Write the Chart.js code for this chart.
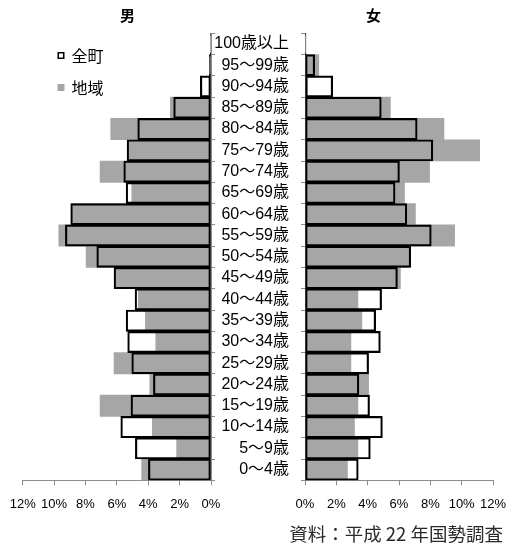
<!DOCTYPE html>
<html>
<head>
<meta charset="utf-8">
<script src="https://cdn.jsdelivr.net/npm/chart.js@4/dist/chart.umd.min.js"></script>
<style>
  html, body { margin: 0; padding: 0; background: #fff; }
  #wrap { position: relative; width: 508px; height: 547px; overflow: hidden; }
  #wrap canvas { position: absolute; left: 0; top: 0; }
  #note {
    position: absolute; right: 5px; top: 522px;
    font: 18.5px/22px "Noto Sans CJK JP", sans-serif; color: #2a2a2a; white-space: pre;
  }
</style>
</head>
<body>
<div id="wrap">
  <canvas id="male" width="508" height="547"></canvas>
  <canvas id="female" width="508" height="547"></canvas>
  <div id="note">資料：平成 22 年国勢調査</div>
</div>
<script>
// Age groups, oldest at the top of the pyramid
const ageGroups = [
  '100歳以上', '95～99歳', '90～94歳', '85～89歳', '80～84歳', '75～79歳',
  '70～74歳', '65～69歳', '60～64歳', '55～59歳', '50～54歳', '45～49歳',
  '40～44歳', '35～39歳', '30～34歳', '25～29歳', '20～24歳', '15～19歳',
  '10～14歳', '5～9歳', '0～4歳'
];

// Share of population (%) per age group
const maleTown     = [0.05, 0.1, 0.68, 2.38, 4.67, 5.35, 5.56, 5.41, 8.94, 9.28, 7.28, 6.18, 4.84, 5.41, 5.31, 5.05, 3.67, 5.1, 5.75, 4.82, 3.99];
const maleRegion   = [0.03, 0.1, 0.1, 2.59, 6.39, 5.3, 7.07, 5.05, 8.9, 9.7, 7.96, 6.15, 4.63, 4.18, 3.52, 6.18, 3.9, 7.07, 3.74, 2.19, 4.42];
const femaleTown   = [0.06, 0.62, 1.77, 4.87, 7.16, 8.16, 6.03, 5.75, 6.5, 8.06, 6.75, 5.9, 4.89, 4.51, 4.81, 4.06, 3.44, 4.12, 4.94, 4.17, 3.4];
const femaleRegion = [0.05, 0.88, 0.17, 5.45, 8.87, 11.15, 7.95, 6.35, 7.05, 9.55, 6.62, 6.09, 3.38, 3.63, 2.93, 2.93, 4.06, 3.38, 3.16, 3.38, 2.71];

const seriesNames = ['全町', '地域'];
const percentTicks = [0, 2, 4, 6, 8, 10, 12];

const axisGray = '#8c8c8c';
const regionGray = '#a6a6a6';
const latinFont = "'Liberation Sans', 'Noto Sans CJK JP', sans-serif";
const cjkFont = "'Noto Sans CJK JP', sans-serif";

// Outline series first so it is painted over the filled one
function pyramidDatasets(town, region) {
  return [
    {
      label: seriesNames[0], data: town,
      backgroundColor: 'rgba(255,255,255,0)', borderColor: '#000',
      borderWidth: 1.5, borderSkipped: false,
      grouped: false, categoryPercentage: 1, barPercentage: 1
    },
    {
      label: seriesNames[1], data: region,
      backgroundColor: regionGray, borderWidth: 0,
      grouped: false, categoryPercentage: 1, barPercentage: 1
    }
  ];
}

function percentAxis(reverse) {
  return {
    type: 'linear', reverse, min: 0, max: 12,
    afterBuildTicks: s => { s.ticks = percentTicks.map(v => ({ value: v })); },
    ticks: {
      callback: v => v + '%', color: '#000', padding: 11,
      font: { family: latinFont, size: 13 }, maxRotation: 0, autoSkip: false
    },
    grid: { drawOnChartArea: false, drawTicks: true, tickLength: 5, color: axisGray },
    border: { display: true, color: axisGray, width: 1 },
    // fixed axis height; end labels fit inside the layout padding already
    afterFit: s => { s.height = 40; s.paddingLeft = 0; s.paddingRight = 0; }
  };
}

// Side heading above each half
const headingPlugin = {
  id: 'sideHeading',
  afterDraw(chart, args, opts) {
    const ctx = chart.ctx;
    ctx.save();
    ctx.font = 'bold 15px ' + cjkFont;
    ctx.fillStyle = '#000';
    ctx.textAlign = 'center';
    ctx.textBaseline = 'middle';
    ctx.fillText(opts.text, opts.x, opts.y);
    ctx.restore();
  }
};

// Legend built from the chart's own datasets
const boxLegendPlugin = {
  id: 'boxLegend',
  afterDraw(chart, args, opts) {
    if (!opts.show) return;
    const ctx = chart.ctx;
    ctx.save();
    ctx.font = '16px ' + cjkFont;
    ctx.textBaseline = 'middle';
    ctx.textAlign = 'left';
    chart.data.datasets.forEach((ds, i) => {
      const cy = opts.y + i * opts.gap;
      const bx = opts.x, size = 7;
      if (ds.borderWidth) {
        ctx.fillStyle = '#fff';
        ctx.fillRect(bx, cy - size / 2, size, size);
        ctx.strokeStyle = ds.borderColor;
        ctx.lineWidth = 1.5;
        ctx.strokeRect(bx + 0.75, cy - size / 2 + 0.75, size - 1.5, size - 1.5);
      } else {
        ctx.fillStyle = ds.backgroundColor;
        ctx.fillRect(bx, cy - size / 2, size, size);
      }
      ctx.fillStyle = '#000';
      ctx.fillText(ds.label, bx + 14, cy);
    });
    ctx.restore();
  }
};

const common = {
  type: 'bar',
  plugins: [headingPlugin, boxLegendPlugin]
};

// Male half: values grow to the left
new Chart(document.getElementById('male'), {
  ...common,
  data: { labels: ageGroups, datasets: pyramidDatasets(maleTown, maleRegion) },
  options: {
    indexAxis: 'y', responsive: false, animation: false,
    layout: { padding: { left: 22.7, right: 293, top: 33.3, bottom: 26.7 } },
    plugins: {
      legend: { display: false }, tooltip: { enabled: false },
      sideHeading: { text: '男', x: 127.5, y: 15 },
      boxLegend: { show: true, x: 57.5, y: 55.5, gap: 32 }
    },
    scales: {
      x: percentAxis(true),
      y: {
        type: 'category', position: 'right', offset: true,
        ticks: { display: false },
        grid: { offset: true, drawOnChartArea: false, tickLength: 4, color: axisGray },
        border: { color: axisGray, width: 1 },
        afterFit: s => { s.width = 4; }
      }
    }
  }
});

// Female half: age labels sit on its left axis
new Chart(document.getElementById('female'), {
  ...common,
  data: { labels: ageGroups, datasets: pyramidDatasets(femaleTown, femaleRegion) },
  options: {
    indexAxis: 'y', responsive: false, animation: false,
    layout: { padding: { left: 205, right: 15, top: 33.3, bottom: 26.7 } },
    plugins: {
      legend: { display: false }, tooltip: { enabled: false },
      sideHeading: { text: '女', x: 373.5, y: 15 },
      boxLegend: { show: false }
    },
    scales: {
      x: percentAxis(false),
      y: {
        type: 'category', position: 'left', offset: true,
        ticks: { color: '#000', padding: 12, font: { family: latinFont, size: 16 }, autoSkip: false },
        grid: { offset: true, drawOnChartArea: false, tickLength: 4, color: axisGray },
        border: { color: axisGray, width: 1 },
        afterFit: s => { s.width = 100; }
      }
    }
  }
});
</script>
</body>
</html>
